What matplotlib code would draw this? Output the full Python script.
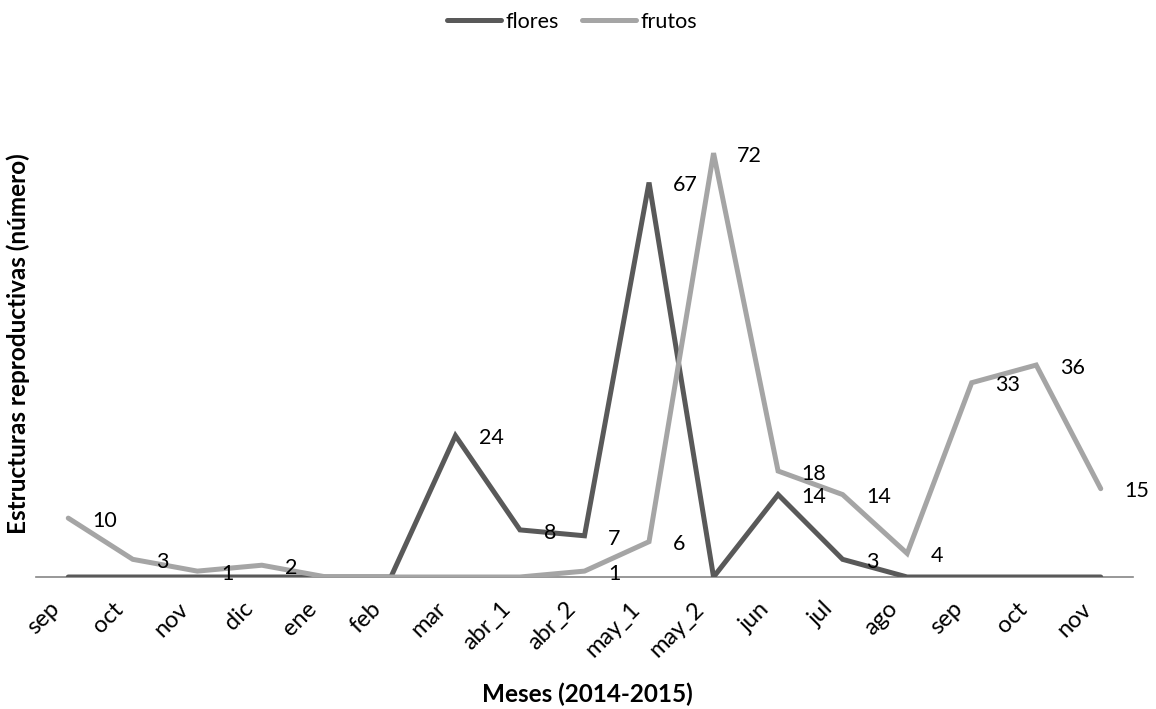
import numpy as np
import matplotlib.pyplot as plt
from matplotlib.transforms import ScaledTranslation

meses = ['sep', 'oct', 'nov', 'dic', 'ene', 'feb', 'mar', 'abr_1', 'abr_2',
         'may_1', 'may_2', 'jun', 'jul', 'ago', 'sep', 'oct', 'nov']
flores = [0, 0, 0, 0, 0, 0, 24, 8, 7, 67, 0, 14, 3, 0, 0, 0, 0]
frutos = [10, 3, 1, 2, 0, 0, 0, 0, 1, 6, 72, 18, 14, 4, 33, 36, 15]

plt.rcParams['font.family'] = ['Lato', 'DejaVu Sans']

fig = plt.figure(figsize=(11.56, 7.09), dpi=100)
ax = fig.add_axes([36 / 1156, 1 - 577 / 709, (1133 - 36) / 1156, (577 - 106) / 709])

x = np.arange(len(meses))
ax.plot(x, flores, color='#595959', lw=3.6, label='flores', zorder=3,
        solid_capstyle='round', solid_joinstyle='miter')
ax.plot(x, frutos, color='#A5A5A5', lw=3.6, label='frutos', zorder=4,
        solid_capstyle='round', solid_joinstyle='miter')

# etiquetas de datos (solo valores distintos de cero)
for serie in (flores, frutos):
    for i, v in enumerate(serie):
        if v != 0:
            ax.annotate(str(v), (i, v), xytext=(17, -2), textcoords='offset points',
                        ha='left', va='center', fontsize=15.5, color='black', zorder=5)

ax.set_xlim(-0.5, len(meses) - 0.5)
ax.set_ylim(0, 80)
ax.set_xticks(x)
ax.set_xticklabels(meses, rotation=45, ha='right', va='top', rotation_mode='anchor',
                   fontsize=17)
ax.tick_params(axis='x', length=0, pad=8)
desplaz = ScaledTranslation(-20 / 100, -10 / 100, fig.dpi_scale_trans)
for lbl in ax.get_xticklabels():
    lbl.set_transform(lbl.get_transform() + desplaz)
ax.set_yticks([])
for s in ['top', 'right', 'left']:
    ax.spines[s].set_visible(False)
ax.spines['bottom'].set_color('#868686')
ax.spines['bottom'].set_linewidth(1.2)

fig.text(18 / 1156, 1 - 344 / 709, 'Estructuras reproductivas (número)', rotation=90,
         ha='center', va='center', fontsize=17.5, fontweight='bold')
fig.text(587 / 1156, 1 - 694 / 709, 'Meses (2014-2015)', ha='center', va='center',
         fontsize=17.5, fontweight='bold')

fig.legend(loc='center', bbox_to_anchor=(572 / 1156, 1 - 22 / 709), ncol=2, frameon=False,
           fontsize=15.5, handlelength=2.5, handletextpad=0.2, columnspacing=1.1)

fig.savefig('out.png', dpi=100)
